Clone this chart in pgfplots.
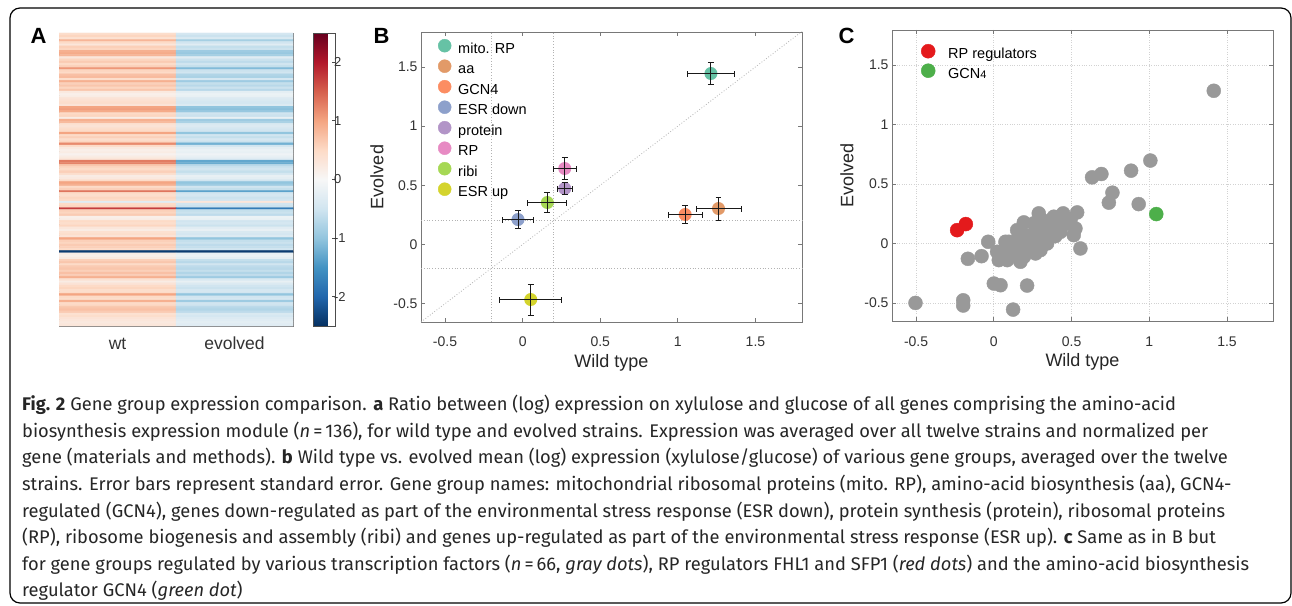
\documentclass[border=0pt]{standalone}
\usepackage{pgfplots}
\pgfplotsset{compat=1.18}
\usepackage{fontspec}
\setmainfont{Liberation Sans}
\newfontfamily\capfont{Fira Sans}
\definecolor{axgray}{RGB}{120,120,120}
\definecolor{cmito}{RGB}{102,194,165}
\definecolor{caa}{RGB}{226,154,104}
\definecolor{cgcn}{RGB}{252,141,98}
\definecolor{cesrd}{RGB}{141,160,203}
\definecolor{cprot}{RGB}{178,148,199}
\definecolor{crp}{RGB}{231,138,195}
\definecolor{cribi}{RGB}{166,216,84}
\definecolor{cesru}{RGB}{212,212,45}
\definecolor{cgray}{RGB}{153,153,153}
\definecolor{cred}{RGB}{228,26,28}
\definecolor{cgreen}{RGB}{77,175,74}
\pgfplotsset{
  colormap={rdbu}{rgb255=(5,48,97) rgb255=(33,102,172) rgb255=(67,147,195)
    rgb255=(146,197,222) rgb255=(209,229,240) rgb255=(247,247,247)
    rgb255=(253,219,199) rgb255=(244,165,130) rgb255=(214,96,77)
    rgb255=(178,24,43) rgb255=(103,0,31)},
  panel/.style={
    scale only axis, anchor=south west,
    axis line style={axgray, line width=0.9pt},
    tick style={axgray, line width=0.8pt},
    tick align=inside, major tick length=4pt,
    ticklabel style={font=\fontsize{14}{16}\selectfont, text=black!80},
    label style={font=\fontsize{18}{20}\selectfont, text=black!85},
  },
  dot/.style 2 args={only marks, mark=*, mark size=#1, mark options={draw=#2, fill=#2}},
  % a dot drawn as a round-capped stroke, so that later paths can go over it
  blob/.style={#1, line width=13pt, line cap=round, mark=none, forget plot},
}

\begin{document}
\begin{tikzpicture}
\useasboundingbox (0pt,0pt) rectangle (1292pt,605pt);
\fill[white] (0pt,0pt) rectangle (1292pt,605pt);
\draw[line width=1.2pt, rounded corners=10pt] (10pt,2pt) rectangle (1291pt,597pt);

% panel letters
\node[font=\fontsize{22}{22}\bfseries\selectfont] at (38.5pt,569.5pt) {A};
\node[font=\fontsize{22}{22}\bfseries\selectfont] at (381.5pt,569.5pt) {B};
\node[font=\fontsize{22}{22}\bfseries\selectfont] at (846.5pt,569.5pt) {C};

% A: heatmap
\begin{axis}[panel, at={(59pt,279pt)}, width=234pt, height=293pt,
  xmin=-0.5, xmax=1.5, ymin=0.5, ymax=136.5, y dir=reverse,
  xtick={0,1}, xticklabels={wt,evolved}, ytick=\empty,
  xticklabel shift=8pt,
  xticklabel style={font=\fontsize{17.5}{19}\selectfont, text height=12pt, text depth=3pt},
  colormap name=rdbu, point meta min=-2.5, point meta max=2.5,
  colorbar,
  colorbar style={at={(parent axis.north east)}, anchor=north west, xshift=12pt,
    width=22pt, ytick={-2,-1,0,1,2}, yticklabels={-2,-1,0,1,2},
    ytick pos=right, yticklabel pos=right, tick align=inside, major tick length=4pt,
    axis line style={black!70, line width=0.8pt}, tick style={black!70, line width=0.8pt},
    yticklabel style={font=\fontsize{13}{15}\selectfont, text=black!80, xshift=-5pt}},
]
\addplot[matrix plot*, mesh/cols=2, point meta=explicit] coordinates {
(0,1)[0.45](1,1)[-0.45] (0,2)[0.55](1,2)[-0.55] (0,3)[0.4](1,3)[-0.4] (0,4)[0.85](1,4)[-0.85]
(0,5)[0.5](1,5)[-0.5] (0,6)[0.3](1,6)[-0.3] (0,7)[0.6](1,7)[-0.6] (0,8)[0.55](1,8)[-0.55]
(0,9)[0.9](1,9)[-0.9] (0,10)[0.95](1,10)[-0.95] (0,11)[0.85](1,11)[-0.85] (0,12)[0.3](1,12)[-0.3]
(0,13)[0.55](1,13)[-0.55] (0,14)[0.65](1,14)[-0.65] (0,15)[0.5](1,15)[-0.5] (0,16)[0.6](1,16)[-0.6]
(0,17)[1.1](1,17)[-1.1] (0,18)[0.55](1,18)[-0.55] (0,19)[0.5](1,19)[-0.5] (0,20)[0.75](1,20)[-0.75]
(0,21)[0.8](1,21)[-0.8] (0,22)[0.45](1,22)[-0.45] (0,23)[0.9](1,23)[-0.9] (0,24)[0.6](1,24)[-0.6]
(0,25)[0.7](1,25)[-0.7] (0,26)[0.55](1,26)[-0.55] (0,27)[0.7](1,27)[-0.7] (0,28)[0.25](1,28)[-0.25]
(0,29)[0.15](1,29)[-0.15] (0,30)[0.2](1,30)[-0.2] (0,31)[0.35](1,31)[-0.35] (0,32)[0.4](1,32)[-0.4]
(0,33)[0.45](1,33)[-0.45] (0,34)[0.35](1,34)[-0.35] (0,35)[1.0](1,35)[-1.0] (0,36)[1.05](1,36)[-1.05]
(0,37)[0.95](1,37)[-0.95] (0,38)[0.5](1,38)[-0.5] (0,39)[0.55](1,39)[-0.55] (0,40)[0.2](1,40)[-0.2]
(0,41)[0.9](1,41)[-0.9] (0,42)[0.8](1,42)[-0.8] (0,43)[0.4](1,43)[-0.4] (0,44)[0.35](1,44)[-0.35]
(0,45)[0.45](1,45)[-0.45] (0,46)[0.5](1,46)[-0.5] (0,47)[1.0](1,47)[-1.0] (0,48)[0.5](1,48)[-0.5]
(0,49)[0.6](1,49)[-0.6] (0,50)[0.45](1,50)[-0.45] (0,51)[0.55](1,51)[-0.55] (0,52)[1.2](1,52)[-1.2]
(0,53)[0.5](1,53)[-0.5] (0,54)[0.25](1,54)[-0.25] (0,55)[0.15](1,55)[-0.15] (0,56)[0.2](1,56)[-0.2]
(0,57)[0.1](1,57)[-0.1] (0,58)[0.2](1,58)[-0.2] (0,59)[0.3](1,59)[-0.3] (0,60)[1.3](1,60)[-1.3]
(0,61)[1.25](1,61)[-1.25] (0,62)[0.7](1,62)[-0.7] (0,63)[0.55](1,63)[-0.55] (0,64)[0.5](1,64)[-0.5]
(0,65)[0.6](1,65)[-0.6] (0,66)[0.45](1,66)[-0.45] (0,67)[0.2](1,67)[-0.2] (0,68)[0.25](1,68)[-0.25]
(0,69)[0.5](1,69)[-0.5] (0,70)[1.0](1,70)[-1.0] (0,71)[0.9](1,71)[-0.9] (0,72)[0.5](1,72)[-0.5]
(0,73)[0.6](1,73)[-0.6] (0,74)[1.35](1,74)[-1.35] (0,75)[0.5](1,75)[-0.5] (0,76)[0.45](1,76)[-0.45]
(0,77)[0.55](1,77)[-0.55] (0,78)[0.5](1,78)[-0.5] (0,79)[-0.3](1,79)[0.3] (0,80)[0.5](1,80)[-0.5]
(0,81)[0.55](1,81)[-0.55] (0,82)[1.75](1,82)[-1.75] (0,83)[0.6](1,83)[-0.6] (0,84)[0.55](1,84)[-0.55]
(0,85)[0.65](1,85)[-0.65] (0,86)[0.15](1,86)[-0.15] (0,87)[0.2](1,87)[-0.2] (0,88)[0.5](1,88)[-0.5]
(0,89)[0.45](1,89)[-0.45] (0,90)[0.55](1,90)[-0.55] (0,91)[0.3](1,91)[-0.3] (0,92)[0.2](1,92)[-0.2]
(0,93)[0.4](1,93)[-0.4] (0,94)[0.45](1,94)[-0.45] (0,95)[0.35](1,95)[-0.35] (0,96)[1.0](1,96)[-1.0]
(0,97)[0.6](1,97)[-0.6] (0,98)[0.55](1,98)[-0.55] (0,99)[0.65](1,99)[-0.65] (0,100)[0.6](1,100)[-0.6]
(0,101)[0.5](1,101)[-0.5] (0,102)[-2.4](1,102)[-2.4] (0,103)[0.2](1,103)[-0.2] (0,104)[0.15](1,104)[-0.15]
(0,105)[0.25](1,105)[-0.25] (0,106)[0.6](1,106)[-0.6] (0,107)[0.7](1,107)[-0.7] (0,108)[0.5](1,108)[-0.5]
(0,109)[0.65](1,109)[-0.65] (0,110)[0.7](1,110)[-0.7] (0,111)[0.6](1,111)[-0.6] (0,112)[0.75](1,112)[-0.75]
(0,113)[0.65](1,113)[-0.65] (0,114)[0.9](1,114)[-0.9] (0,115)[0.4](1,115)[-0.4] (0,116)[0.2](1,116)[-0.2]
(0,117)[0.35](1,117)[-0.35] (0,118)[0.5](1,118)[-0.5] (0,119)[0.55](1,119)[-0.55] (0,120)[0.45](1,120)[-0.45]
(0,121)[0.5](1,121)[-0.5] (0,122)[1.0](1,122)[-1.0] (0,123)[0.5](1,123)[-0.5] (0,124)[0.45](1,124)[-0.45]
(0,125)[0.9](1,125)[-0.9] (0,126)[0.5](1,126)[-0.5] (0,127)[0.55](1,127)[-0.55] (0,128)[0.7](1,128)[-0.7]
(0,129)[0.75](1,129)[-0.75] (0,130)[0.65](1,130)[-0.65] (0,131)[0.4](1,131)[-0.4] (0,132)[0.45](1,132)[-0.45]
(0,133)[0.35](1,133)[-0.35] (0,134)[0.3](1,134)[-0.3] (0,135)[0.25](1,135)[-0.25] (0,136)[0.3](1,136)[-0.3]
};
\end{axis}

% B: gene groups
\begin{axis}[panel, clip=false, at={(421pt,283pt)}, width=381pt, height=290pt,
  xmin=-0.655, xmax=1.8, ymin=-0.655, ymax=1.795,
  xtick={-0.5,0,0.5,1,1.5}, xticklabels={-0.5,0,0.5,1,1.5},
  ytick={-0.5,0,0.5,1,1.5}, yticklabels={-0.5,0,0.5,1,1.5},
  xticklabel shift=11pt,
  xlabel={Wild type}, ylabel={Evolved},
  xlabel style={at={(axis description cs:0.5,-0.14)}, anchor=center},
  ylabel style={at={(axis description cs:-0.1155,0.5)}, anchor=center},
  legend style={at={(axis description cs:0,1)}, anchor=north west, xshift=17pt, yshift=-7pt,
    draw=none, fill=none, font=\fontsize{14.5}{16}\selectfont, row sep=1.5pt, column sep=5pt,
    inner sep=0pt, nodes={inner sep=2pt, text height=10pt, text depth=3pt}},
  legend cell align=left,
  legend image code/.code={\draw[#1] plot coordinates {(0pt,4pt)};},
  unbounded coords=jump,
]
\addplot[gray!60, dotted, line width=0.8pt, forget plot] coordinates {(-0.655,-0.655) (1.8,1.8)};
\addplot[gray!60, dotted, line width=0.8pt, forget plot] coordinates {(-0.2,-0.655) (-0.2,1.795)};
\addplot[gray!60, dotted, line width=0.8pt, forget plot] coordinates {(0.2,-0.655) (0.2,1.795)};
\addplot[gray!60, dotted, line width=0.8pt, forget plot] coordinates {(-0.655,0.2) (1.8,0.2)};
\addplot[gray!60, dotted, line width=0.8pt, forget plot] coordinates {(-0.655,-0.2) (1.8,-0.2)};
\addplot[blob=cmito] coordinates {(1.213,1.443) (1.2131,1.443)};
\addplot[blob=caa]   coordinates {(1.262,0.302) (1.2621,0.302)};
\addplot[blob=cgcn]  coordinates {(1.047,0.252) (1.0471,0.252)};
\addplot[blob=cesrd] coordinates {(-0.030,0.209) (-0.0299,0.209)};
\addplot[blob=cprot] coordinates {(0.271,0.472) (0.2711,0.472)};
\addplot[blob=crp]   coordinates {(0.271,0.641) (0.2711,0.641)};
\addplot[blob=cribi] coordinates {(0.159,0.353) (0.1591,0.353)};
\addplot[blob=cesru] coordinates {(0.052,-0.466) (0.0521,-0.466)};
\addlegendimage{dot={6.5pt}{cmito}}\addlegendentry{mito. RP}
\addlegendimage{dot={6.5pt}{caa}}\addlegendentry{aa}
\addlegendimage{dot={6.5pt}{cgcn}}\addlegendentry{GCN4}
\addlegendimage{dot={6.5pt}{cesrd}}\addlegendentry{ESR down}
\addlegendimage{dot={6.5pt}{cprot}}\addlegendentry{protein}
\addlegendimage{dot={6.5pt}{crp}}\addlegendentry{RP}
\addlegendimage{dot={6.5pt}{cribi}}\addlegendentry{ribi}
\addlegendimage{dot={6.5pt}{cesru}}\addlegendentry{ESR up}
% standard-error bars with end caps: horizontal bar, vertical bar, and the four caps
\addplot[black!90, line width=1pt, mark=none, forget plot] coordinates {
(1.060,1.443) (1.366,1.443) (nan,nan) (1.213,1.351) (1.213,1.535) (nan,nan)
(1.060,1.418) (1.060,1.468) (nan,nan) (1.366,1.418) (1.366,1.468) (nan,nan)
(1.194,1.351) (1.232,1.351) (nan,nan) (1.194,1.535) (1.232,1.535) (nan,nan)
(1.117,0.302) (1.407,0.302) (nan,nan) (1.262,0.203) (1.262,0.401) (nan,nan)
(1.117,0.277) (1.117,0.327) (nan,nan) (1.407,0.277) (1.407,0.327) (nan,nan)
(1.243,0.203) (1.281,0.203) (nan,nan) (1.243,0.401) (1.281,0.401) (nan,nan)
(0.937,0.252) (1.157,0.252) (nan,nan) (1.047,0.177) (1.047,0.327) (nan,nan)
(0.937,0.227) (0.937,0.277) (nan,nan) (1.157,0.227) (1.157,0.277) (nan,nan)
(1.028,0.177) (1.066,0.177) (nan,nan) (1.028,0.327) (1.066,0.327) (nan,nan)
(-0.130,0.209) (0.070,0.209) (nan,nan) (-0.030,0.131) (-0.030,0.287) (nan,nan)
(-0.130,0.184) (-0.130,0.234) (nan,nan) (0.070,0.184) (0.070,0.234) (nan,nan)
(-0.049,0.131) (-0.011,0.131) (nan,nan) (-0.049,0.287) (-0.011,0.287) (nan,nan)
(0.223,0.472) (0.319,0.472) (nan,nan) (0.271,0.424) (0.271,0.520) (nan,nan)
(0.223,0.447) (0.223,0.497) (nan,nan) (0.319,0.447) (0.319,0.497) (nan,nan)
(0.252,0.424) (0.290,0.424) (nan,nan) (0.252,0.520) (0.290,0.520) (nan,nan)
(0.198,0.641) (0.344,0.641) (nan,nan) (0.271,0.547) (0.271,0.735) (nan,nan)
(0.198,0.616) (0.198,0.666) (nan,nan) (0.344,0.616) (0.344,0.666) (nan,nan)
(0.252,0.547) (0.290,0.547) (nan,nan) (0.252,0.735) (0.290,0.735) (nan,nan)
(0.034,0.353) (0.284,0.353) (nan,nan) (0.159,0.270) (0.159,0.436) (nan,nan)
(0.034,0.328) (0.034,0.378) (nan,nan) (0.284,0.328) (0.284,0.378) (nan,nan)
(0.140,0.270) (0.178,0.270) (nan,nan) (0.140,0.436) (0.178,0.436) (nan,nan)
(-0.147,-0.466) (0.251,-0.466) (nan,nan) (0.052,-0.597) (0.052,-0.335) (nan,nan)
(-0.147,-0.491) (-0.147,-0.441) (nan,nan) (0.251,-0.491) (0.251,-0.441) (nan,nan)
(0.033,-0.597) (0.071,-0.597) (nan,nan) (0.033,-0.335) (0.071,-0.335)
};
\end{axis}

% C: transcription factor groups
\begin{axis}[panel, at={(892pt,284pt)}, width=381pt, height=291pt,
  xmin=-0.655, xmax=1.796, ymin=-0.652, ymax=1.795,
  xtick={-0.5,0,0.5,1,1.5}, xticklabels={-0.5,0,0.5,1,1.5},
  ytick={-0.5,0,0.5,1,1.5}, yticklabels={-0.5,0,0.5,1,1.5},
  xticklabel shift=12pt,
  grid=major, grid style={dotted, gray!35, line width=0.8pt},
  xlabel={Wild type}, ylabel={Evolved},
  xlabel style={at={(axis description cs:0.5,-0.14)}, anchor=center},
  ylabel style={at={(axis description cs:-0.118,0.5)}, anchor=center},
  legend style={at={(axis description cs:0,1)}, anchor=north west, xshift=29pt, yshift=-14pt,
    draw=none, fill=none, font=\fontsize{14.5}{16}\selectfont, row sep=0pt, column sep=11pt,
    inner sep=0pt, nodes={inner sep=2pt, text height=10pt, text depth=3pt}},
  legend cell align=left,
  legend image code/.code={\draw[#1] plot coordinates {(0pt,4pt)};},
]
\addplot[dot={7pt}{cgray}, forget plot] coordinates {
(1.415,1.284) (1.007,0.697) (0.883,0.612) (0.692,0.584) (0.632,0.556)
(0.763,0.427) (0.740,0.343) (0.932,0.331) (0.536,0.261) (0.446,0.253)
(0.386,0.225) (0.289,0.253) (0.343,0.183) (0.193,0.177) (0.429,0.154)
(0.150,0.112) (0.525,0.126) (0.514,0.070) (0.557,-0.042) (-0.036,0.014)
(-0.079,-0.107) (-0.167,-0.129) (0.032,-0.140) (0.096,0.014) (0.000,-0.337)
(0.043,-0.351) (0.214,-0.354) (-0.504,-0.500) (-0.197,-0.478) (-0.197,-0.522)
(0.124,-0.556) (0.257,0.084) (0.300,0.126) (0.386,0.112) (0.364,0.056)
(0.322,0.028) (0.279,-0.014) (0.225,-0.056) (0.171,-0.028) (0.129,-0.084)
(0.075,-0.056) (0.054,-0.112) (0.171,-0.154) (0.193,-0.112) (0.236,0.028)
(0.204,0.070) (0.343,0.084) (0.407,0.183) (0.472,0.169) (0.439,0.211)
(0.364,0.163) (0.268,-0.084) (0.086,-0.140) (0.150,0.028) (0.118,-0.028)
(0.311,0.197) (0.396,0.062) (0.214,0.000) (0.300,-0.056) (0.021,-0.070)
(0.257,0.169) (0.493,0.197) (0.171,0.084) (0.343,0.000) (0.075,0.014)
(0.429,0.098)
};
\addplot[dot={7pt}{cred}] coordinates {(-0.236,0.112) (-0.180,0.163)};
\addlegendentry{RP regulators}
\addplot[dot={7pt}{cgreen}] coordinates {(1.045,0.247)};
\addlegendentry{GCN{\fontsize{11}{12}\selectfont 4}}
\end{axis}

% caption
\begin{scope}[every node/.style={anchor=base west, inner sep=0pt, text=black!85,
  font=\capfont\fontsize{18.3}{21}\selectfont}]
\node at (22pt,194pt) {\textbf{Fig. 2} Gene group expression comparison. \textbf{a} Ratio between (log) expression on xylulose and glucose of all genes comprising the amino-acid};
\node at (22pt,167.5pt) {biosynthesis expression module (\textit{n}\,=\,136), for wild type and evolved strains. Expression was averaged over all twelve strains and normalized per};
\node at (22pt,141pt) {gene (materials and methods). \textbf{b} Wild type vs. evolved mean (log) expression (xylulose/glucose) of various gene groups, averaged over the twelve};
\node at (22pt,114.5pt) {strains. Error bars represent standard error. Gene group names: mitochondrial ribosomal proteins (mito. RP), amino-acid biosynthesis (aa), GCN4-};
\node at (22pt,88pt) {regulated (GCN4), genes down-regulated as part of the environmental stress response (ESR down), protein synthesis (protein), ribosomal proteins};
\node at (22pt,61.5pt) {(RP), ribosome biogenesis and assembly (ribi) and genes up-regulated as part of the environmental stress response (ESR up). \textbf{c} Same as in B but};
\node at (22pt,35pt) {for gene groups regulated by various transcription factors (\textit{n}\,=\,66, \textit{gray dots}), RP regulators FHL1 and SFP1 (\textit{red dots}) and the amino-acid biosynthesis};
\node at (22pt,8.5pt) {regulator GCN4 (\textit{green dot})};
\end{scope}
\end{tikzpicture}
\end{document}
